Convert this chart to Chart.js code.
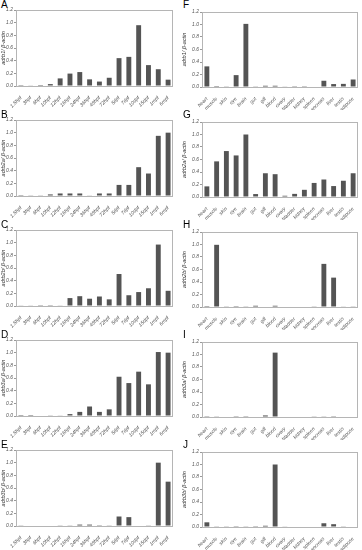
<!DOCTYPE html>
<html><head><meta charset="utf-8">
<script src="https://cdn.jsdelivr.net/npm/chart.js@4"></script>
<style>
html,body{margin:0;padding:0;background:#fff;width:362px;height:550px;overflow:hidden}
.p{position:absolute}
.lt{position:absolute;font-family:"Liberation Sans",Arial,sans-serif;font-size:10px;color:#000;line-height:10px}
</style></head><body>
<script>
const stages = ["1.5hpf","3hpf","6hpf","10hpf","12hpf","16hpf","24hpf","36hpf","48hpf","72hpf","5dpf","7dpf","10dpf","15dpf","1mpf","6mpf"];
const tissues = ["heart","muscle","skin","eye","brain","gut","gill","blood","ovary","bladder","kidney","spleen","pancreas","liver","testis","adipose"];
const yTicks = [0.0,0.2,0.4,0.6,0.8,1.0,1.2];

const adrb1Stage  = [0.002,0.01,0.015,0.03,0.12,0.196,0.22,0.105,0.07,0.13,0.44,0.46,0.96,0.33,0.265,0.10];
const adrb2aStage = [0.002,0.005,0.005,0.025,0.04,0.04,0.04,0.01,0.04,0.04,0.175,0.175,0.455,0.355,0.95,1.0];
const adrb2bStage = [0.01,0.01,0.003,0.003,0.01,0.125,0.155,0.115,0.15,0.105,0.505,0.17,0.22,0.28,0.97,0.24];
const adrb3aStage = [0.015,0.015,0,0.005,0.01,0.03,0.065,0.15,0.065,0.105,0.62,0.52,0.70,0.50,1.01,1.0];
const adrb3bStage = [0.005,0.008,0,0,0.005,0.005,0.022,0.022,0.003,0.005,0.15,0.14,0.008,0.005,1.0,0.70];

const adrb1Tissue  = [0.33,0.015,0.005,0.19,1.01,0.005,0.02,0.02,0.01,0.003,0.003,0,0.10,0.047,0.05,0.12];
const adrb2aTissue = [0.17,0.57,0.735,0.665,1.0,0.047,0.38,0.365,0.02,0.05,0.115,0.225,0.28,0.175,0.26,0.38];
const adrb2bTissue = [0.015,0.995,0.005,0.002,0.005,0.02,0,0.02,0,0,0,0.005,0.69,0.47,0.01,0.005];
const adrb3aTissue = [0.003,0.005,0,0.003,0.003,0,0.025,1.03,0,0,0,0.005,0.005,0.003,0,0.008];
const adrb3bTissue = [0.075,0.005,0.005,0.003,0.005,0.003,0.02,1.0,0.01,0,0,0.008,0.06,0.045,0.005,0.008];

const panels = [
  {letter:"A", gene:"adrb1",  labels:stages,  data:adrb1Stage,  col:0, row:0},
  {letter:"B", gene:"adrb2a", labels:stages,  data:adrb2aStage, col:0, row:1},
  {letter:"C", gene:"adrb2b", labels:stages,  data:adrb2bStage, col:0, row:2},
  {letter:"D", gene:"adrb3a", labels:stages,  data:adrb3aStage, col:0, row:3},
  {letter:"E", gene:"adrb3b", labels:stages,  data:adrb3bStage, col:0, row:4},
  {letter:"F", gene:"adrb1",  labels:tissues, data:adrb1Tissue,  col:1, row:0},
  {letter:"G", gene:"adrb2a", labels:tissues, data:adrb2aTissue, col:1, row:1},
  {letter:"H", gene:"adrb2b", labels:tissues, data:adrb2bTissue, col:1, row:2},
  {letter:"I", gene:"adrb3a", labels:tissues, data:adrb3aTissue, col:1, row:3},
  {letter:"J", gene:"adrb3b", labels:tissues, data:adrb3bTissue, col:1, row:4}
];

const frame = {
  id:'frame',
  afterDraw(chart){
    const a = chart.chartArea, c = chart.ctx;
    c.save(); c.strokeStyle = '#b5b5b5'; c.lineWidth = 1;
    c.strokeRect(Math.round(a.left)+0.5, Math.round(a.top)+0.5, Math.round(a.right-a.left)-1, Math.round(a.bottom-a.top));
    c.restore();
  }
};

const FONT = '"Liberation Sans", Arial, sans-serif';
panels.forEach(p => {
  const W = 181, H = 110;
  const x0 = p.col*181, y0 = p.row*110;
  const lt = document.createElement('div');
  lt.className = 'lt'; lt.textContent = p.letter;
  lt.style.left = (x0 + (p.col ? 2 : 1)) + 'px'; lt.style.top = (y0 + 0) + 'px';
  document.body.appendChild(lt);
  const cv = document.createElement('canvas');
  cv.className = 'p'; cv.width = W; cv.height = H;
  cv.style.left = x0 + 'px'; cv.style.top = y0 + 'px';
  cv.style.width = W + 'px'; cv.style.height = H + 'px';
  document.body.appendChild(cv);
  const yW = p.col ? 21 : 16;
  const top = p.col ? 12 : 10;
  const right = p.col ? 4 : 8;
  const xH = p.col ? 23 : 24;
  new Chart(cv, {
    type:'bar',
    data:{labels:p.labels, datasets:[{data:p.data, backgroundColor:'#545454', borderWidth:0, barPercentage:0.5, categoryPercentage:1.0}]},
    options:{
      responsive:false, animation:false, devicePixelRatio:1,
      layout:{padding:{top:top, right:right, left:0, bottom:0}},
      plugins:{legend:{display:false}, tooltip:{enabled:false}},
      scales:{
        x:{
          grid:{display:false}, border:{display:false},
          ticks:{autoSkip:false, maxRotation:45, minRotation:45, padding:1, color:'#555',
                 font:{family:FONT, size:5, style:'italic'}},
          afterFit(s){ s.height = xH; }
        },
        y:{
          min:0, max:1.2,
          afterBuildTicks(s){ s.ticks = yTicks.map(v => ({value:v})); },
          grid:{display:true, drawOnChartArea:false, tickLength:2, color:'#999'},
          border:{display:true, color:'#999'},
          ticks:{padding:1, color:'#555', font:{family:FONT, size:5, style:'italic'},
                 callback:v => Number(v).toFixed(1)},
          title:{display:true, text:p.gene + '/ β-actin', color:'#333', padding:0,
                 font:{family:FONT, size:5.5, style:'italic'}},
          afterFit(s){ s.width = yW; }
        }
      }
    },
    plugins:[frame]
  });
});
</script>
</body></html>
